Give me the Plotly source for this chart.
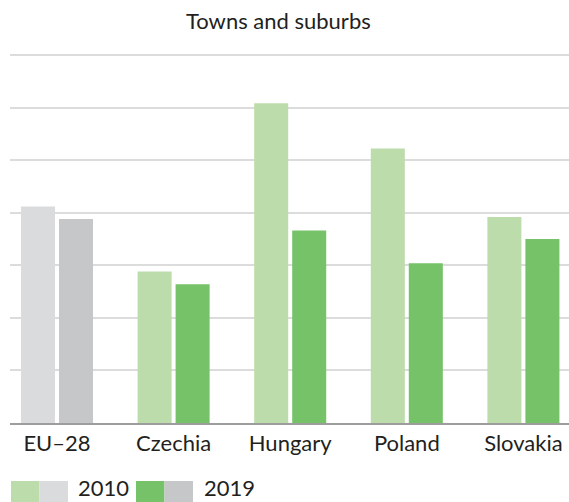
import plotly.graph_objects as go

# Chart data
countries = ["EU\u201328", "Czechia", "Hungary", "Poland", "Slovakia"]
values_2010 = [20.6, 14.4, 30.4, 26.1, 19.6]
values_2019 = [19.4, 13.2, 18.3, 15.2, 17.5]
years = ["2010", "2019"]

# Colours: EU aggregate in greys, countries in greens
LIGHT_GREEN = "#bddcab"
GREEN = "#76c268"
LIGHT_GREY = "#dadbdd"
GREY = "#c6c7c9"
TEXT = "#231f20"
FONT = "Lato, 'Open Sans', sans-serif"

colors_2010 = [LIGHT_GREY] + [LIGHT_GREEN] * (len(countries) - 1)
colors_2019 = [GREY] + [GREEN] * (len(countries) - 1)

W, H = 569, 502
ML, MR, MT, MB = 10, 0, 53, 79
plot_w = W - ML - MR
plot_h = H - MT - MB
# y range slightly above the top gridline so it is drawn
y_top = 35 * plot_h / 368.0

fig = go.Figure()
fig.add_trace(go.Bar(x=countries, y=values_2010, name=years[0],
                     marker=dict(color=colors_2010, line=dict(width=0)),
                     hoverinfo="x+y"))
fig.add_trace(go.Bar(x=countries, y=values_2019, name=years[1],
                     marker=dict(color=colors_2019, line=dict(width=0)),
                     hoverinfo="x+y"))


def px_x(px):
    return (px - ML) / plot_w


def px_y(py):
    return (H - MB - py) / plot_h


# Custom legend: paired swatches (country / EU colour) followed by year label
shapes = []
annotations = []
legend_items = [
    (11, [LIGHT_GREEN, LIGHT_GREY], years[0], 77),
    (136, [GREEN, GREY], years[1], 203),
]
for x0, cols, label, tx in legend_items:
    for i, c in enumerate(cols):
        shapes.append(dict(type="rect", xref="paper", yref="paper",
                           x0=px_x(x0 + i * 28.5), x1=px_x(x0 + (i + 1) * 28.5),
                           y0=px_y(502), y1=px_y(481),
                           fillcolor=c, line=dict(width=0), layer="above"))
    annotations.append(dict(xref="paper", yref="paper", x=px_x(tx), y=px_y(487),
                            xanchor="left", yanchor="middle", text=label,
                            showarrow=False, borderpad=0,
                            font=dict(family=FONT, size=22, color=TEXT)))

annotations.append(dict(xref="paper", yref="paper", x=px_x(278.5), y=px_y(20),
                        xanchor="center", yanchor="middle", text="Towns and suburbs",
                        showarrow=False, font=dict(family=FONT, size=22, color=TEXT)))

fig.update_layout(
    width=W, height=H,
    margin=dict(l=ML, r=MR, t=MT, b=MB, pad=0),
    paper_bgcolor="white", plot_bgcolor="white",
    barmode="group", bargap=0.348, bargroupgap=0.105,
    showlegend=False,
    font=dict(family=FONT, size=22, color=TEXT),
    shapes=shapes, annotations=annotations,
    xaxis=dict(range=[-0.403, 4.391], showgrid=False, showline=True,
               linecolor="#9d9d9d", linewidth=2, ticks="",
               tickfont=dict(family=FONT, size=22, color=TEXT)),
    yaxis=dict(range=[0, y_top], dtick=5, showgrid=True, gridcolor="#dcdcdc",
               gridwidth=1.5, showticklabels=False, zeroline=False, ticks=""),
)

fig.write_html("out.html")
